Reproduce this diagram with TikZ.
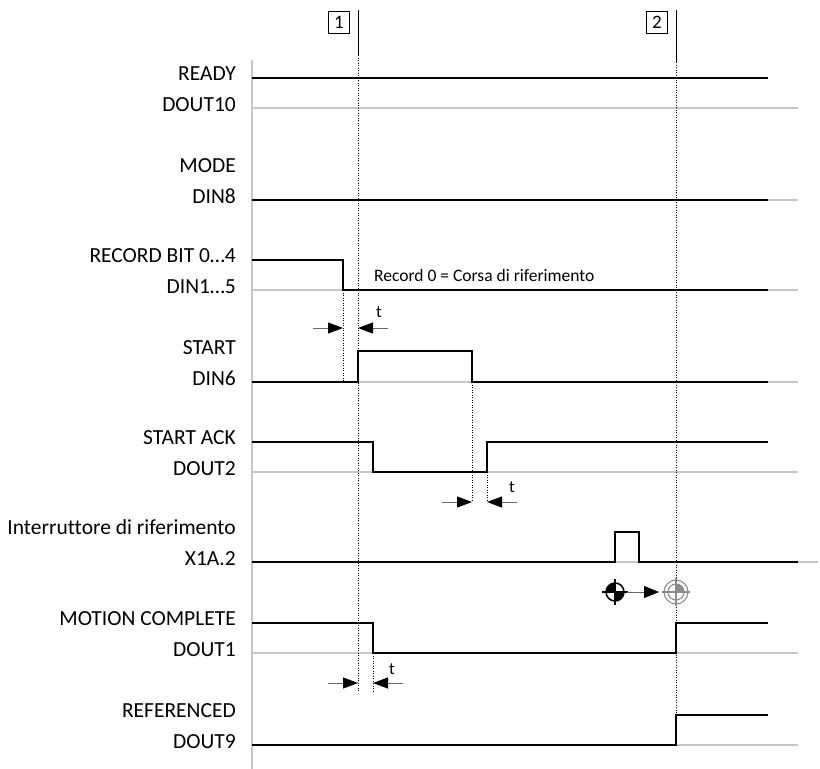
\documentclass[tikz,border=0pt]{standalone}
\usepackage{fontspec}
\setmainfont[Ligatures=NoCommon]{Carlito}
\usetikzlibrary{arrows.meta,calc}
\begin{document}
\begin{tikzpicture}[x=1pt,y=-1pt,
  sig/.style={line width=2.4pt, line join=miter},
  base/.style={line width=1.3pt, draw=black!22},
  axisline/.style={line width=2.6pt, draw=black!22},
  guide/.style={line width=0.8pt, dash pattern=on 0.9pt off 1.6pt},
  marker/.style={line width=0.8pt},
  lab/.style={anchor=base east, inner sep=0pt, font=\fontsize{21.5}{21.5}\selectfont},
  tlab/.style={inner sep=0pt, font=\fontsize{17}{17}\selectfont},
  note/.style={anchor=west, inner sep=0pt, font=\fontsize{17.5}{17.5}\selectfont},
  numbox/.style={draw, line width=0.8pt, minimum width=21pt, minimum height=22pt, inner sep=0pt, font=\fontsize{19}{19}\selectfont},
  tarrow/.style={line width=1pt, draw=black!60, -{Triangle[length=15pt,width=11pt,color=black]}},
]
\useasboundingbox (0,0) rectangle (820,769);

% axis
\draw[axisline] (252,60) -- (252,769);

% labels
\node[lab] (l1a) at (236,80) {READY};
\node[lab] (l1b) at (236,111) {DOUT10};
\node[lab] (l2a) at (236,172) {MODE};
\node[lab] (l2b) at (236,203) {DIN8};
\node[lab] (l3a) at (236,262) {RECORD BIT 0…4};
\node[lab] (l3b) at (236,293) {DIN1…5};
\node[lab] (l4a) at (236,354) {START};
\node[lab] (l4b) at (236,385) {DIN6};
\node[lab] (l5a) at (236,444) {START ACK};
\node[lab] (l5b) at (236,475) {DOUT2};
\node[lab] (l6a) at (236,534) {Interruttore di riferimento};
\node[lab] (l6b) at (236,565) {X1A.2};
\node[lab] (l7a) at (236,625) {MOTION COMPLETE};
\node[lab] (l7b) at (236,656) {DOUT1};
\node[lab] (l8a) at (236,717) {REFERENCED};
\node[lab] (l8b) at (236,748) {DOUT9};

% baselines (gray)
\draw[base] (252,108) -- (798,108);
\draw[base] (252,200) -- (798,200);
\draw[base] (252,290) -- (798,290);
\draw[base] (252,382) -- (798,382);
\draw[base] (252,472) -- (798,472);
\draw[base] (252,562) -- (818,562);
\draw[base] (252,653) -- (798,653);
\draw[base] (252,745) -- (798,745);

% markers
\node[numbox] (m1) at (339,22) {1};
\node[numbox] (m2) at (657,22) {2};
\coordinate (v1top) at (358,10);
\coordinate (v1mid) at (358,55);
\coordinate (v1bot) at (358,692);
\coordinate (v2top) at (676,10);
\coordinate (v2mid) at (676,62);
\coordinate (v2bot) at (676,715);
\draw[marker] (v1top) -- (v1mid);
\draw[guide] (v1mid) -- (v1bot);
\draw[marker] (v2top) -- (v2mid);
\draw[guide] (v2mid) -- (v2bot);

% other guides
\draw[guide] (343,290) -- (343,382);
\draw[guide] (472,382) -- (472,502);
\draw[guide] (487,472) -- (487,502);
\draw[guide] (373,653) -- (373,692);

% signals
\draw[sig] (252,78) -- (768,78);
\draw[sig] (252,200) -- (768,200);
\draw[sig] (252,260) -- (343,260) -- (343,290) -- (768,290);
\draw[sig] (252,382) -- (358,382) -- (358,351) -- (472,351) -- (472,382) -- (768,382);
\draw[sig] (252,442) -- (373,442) -- (373,472) -- (487,472) -- (487,442) -- (768,442);
\draw[sig] (252,562) -- (615,562) -- (615,532) -- (639,532) -- (639,562) -- (798,562);
\draw[sig] (252,623) -- (373,623) -- (373,653) -- (676,653) -- (676,623) -- (768,623);
\draw[sig] (252,745) -- (676,745) -- (676,715) -- (768,715);

% note
\node[note] (rec) at (374,275) {Record 0 = Corsa di riferimento};

% t arrows
\draw[tarrow] (313,328) -- (343,328);
\draw[tarrow] (388,328) -- (358,328);
\node[tlab] (t1) at (379,312) {t};
\draw[tarrow] (442,502) -- (472,502);
\draw[tarrow] (517,502) -- (487,502);
\node[tlab] (t2) at (512,487) {t};
\draw[tarrow] (328,683) -- (358,683);
\draw[tarrow] (403,683) -- (373,683);
\node[tlab] (t3) at (392,669) {t};

% reference symbols
\coordinate (s1) at (615,592);
\coordinate (s2) at (676,592);
\fill (s1) -- ++(-9,0) arc[start angle=180,end angle=270,radius=9] -- cycle;
\fill (s1) -- ++(9,0) arc[start angle=0,end angle=90,radius=9] -- cycle;
\draw[line width=1.5pt] (s1) circle[radius=9];
\draw[line width=1.2pt] ($(s1)+(-13,0)$) -- ($(s1)+(13,0)$);
\draw[line width=1.2pt] ($(s1)+(0,-13)$) -- ($(s1)+(0,13)$);
\draw[line width=1pt, draw=black!60, -{Triangle[length=15pt,width=12pt,color=black]}] (627,592) -- (659,592);
\fill[black!45] (s2) -- ++(8,0) arc[start angle=0,end angle=-90,radius=8] -- cycle;
\draw[line width=1.1pt, draw=black!45] (s2) circle[radius=8];
\draw[line width=1.1pt, draw=black!45] (s2) circle[radius=12];
\draw[line width=1.1pt, draw=black!45] ($(s2)+(-14,0)$) -- ($(s2)+(14,0)$);
\draw[line width=1.1pt, draw=black!45] ($(s2)+(0,-14)$) -- ($(s2)+(0,14)$);
\end{tikzpicture}
\end{document}
